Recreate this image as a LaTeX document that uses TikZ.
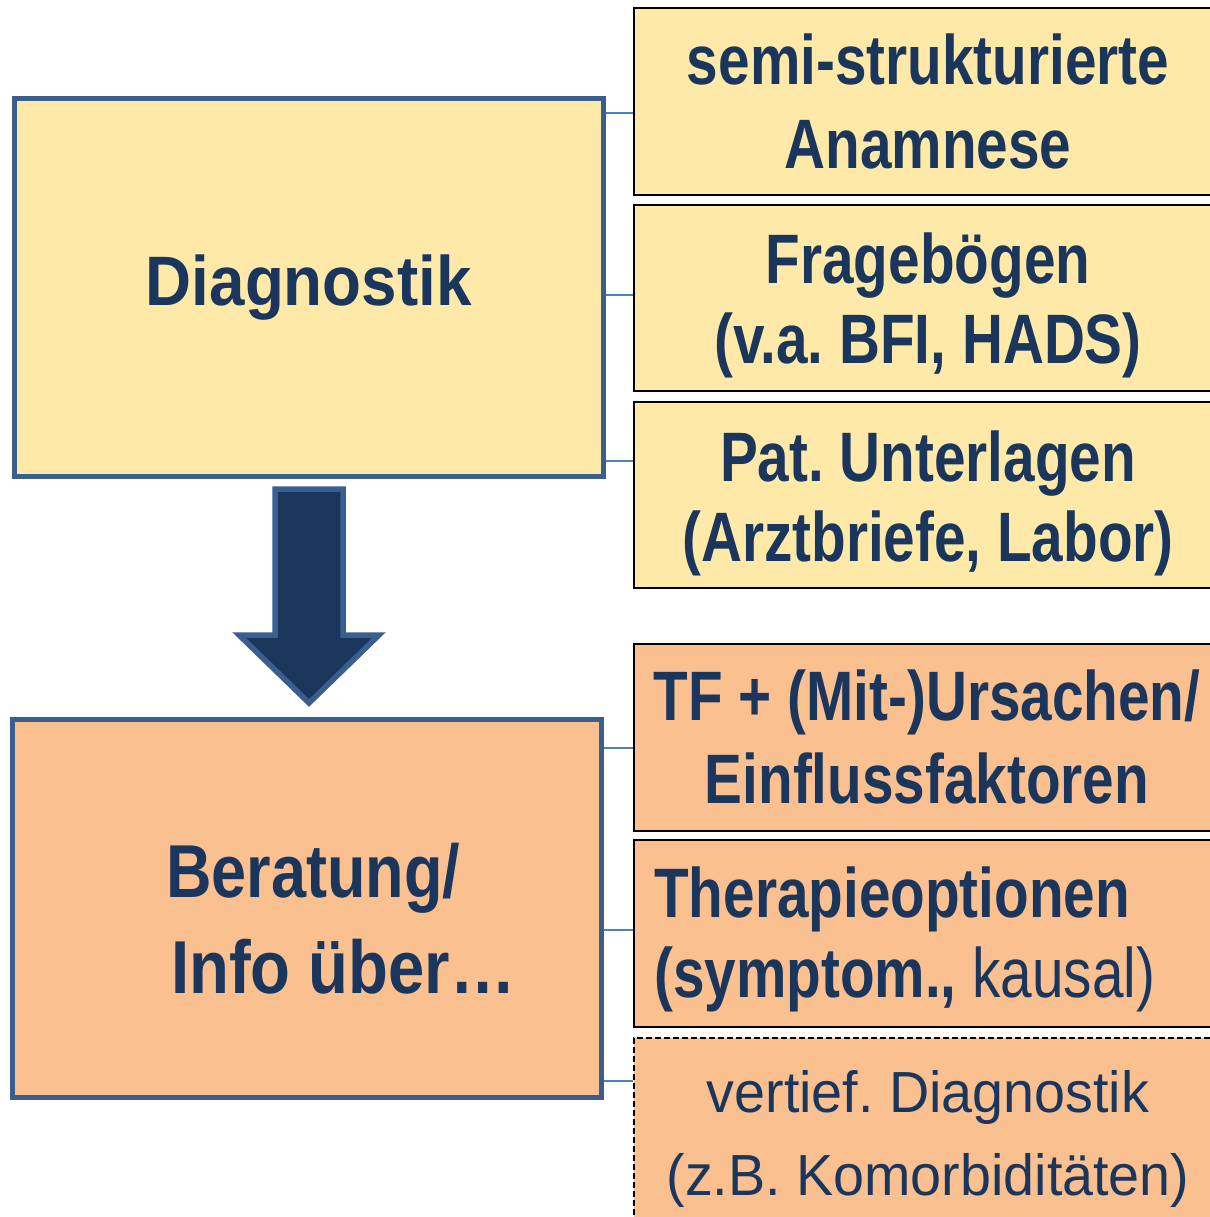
\documentclass[tikz,border=0pt]{standalone}
\usepackage{fontspec}
\setmainfont{Liberation Sans}
\newfontfamily\fmid[FakeStretch=0.81]{Liberation Sans}
\newfontfamily\fdia[FakeStretch=0.91]{Liberation Sans}
\newfontfamily\fber[FakeStretch=0.84]{Liberation Sans}
\newfontfamily\finf[FakeStretch=0.87]{Liberation Sans}
\newfontfamily\fver[FakeStretch=0.96]{Liberation Sans}
\definecolor{ybg}{HTML}{FFE9A8}
\definecolor{obg}{HTML}{FAC090}
\definecolor{navy}{HTML}{1A365D}
\definecolor{bdr}{HTML}{3A5F8E}
\definecolor{conn}{HTML}{4F81BD}
\frenchspacing
\begin{document}
\begin{tikzpicture}[x=1pt,y=-1pt,
  bigbox/.style={draw=bdr, line width=5pt, inner sep=0pt, minimum width=589pt, minimum height=378pt},
  rbox/.style={draw=black, line width=2pt, inner sep=0pt, minimum width=620pt, minimum height=186.5pt, anchor=north west},
  dbox/.style={rbox, dash pattern=on 6pt off 3pt, line width=2pt, minimum height=200pt},
  rtxt/.style={font=\fmid\bfseries\fontsize{70}{83}\selectfont, text=navy, align=center, inner sep=0pt, anchor=base},
  mtxt/.style={rtxt, font=\fmid\bfseries\fontsize{70}{80}\selectfont},
  vtxt/.style={font=\fver\fontsize{58}{83}\selectfont, text=navy, align=center, inner sep=0pt, anchor=base},
  link/.style={draw=conn, line width=2pt},
  bigarrow/.style={draw=bdr, fill=navy, line width=5.5pt, line join=miter}]
\useasboundingbox[fill=white] (0,0) rectangle (1209,1217);

% big boxes
\node[bigbox, fill=ybg, font=\fdia\bfseries\fontsize{70}{83}\selectfont, text=navy] (diag) at (308.75,287.5) {Diagnostik};
\node[bigbox, fill=obg] (ber) at (306.5,908) {};
\node[font=\fber\bfseries\fontsize{75}{96}\selectfont, text=navy, align=left, inner sep=0pt, anchor=base west] (bertxt) at (166,993) {Beratung/\\\hspace*{5pt}{\finf Info über…}};

% right boxes (yellow)
\node[rbox, fill=ybg] (r1) at (633,7.5) {};
\node[rbox, fill=ybg] (r2) at (633,203.5) {};
\node[rbox, fill=ybg] (r3) at (633,400.5) {};
% right boxes (orange)
\node[rbox, fill=obg] (o1) at (633,643) {};
\node[rbox, fill=obg] (o2) at (633,839) {};
\node[dbox, fill=obg] (o3) at (633,1036.5) {};

% texts (anchor = baseline of last line)
\node[rtxt] (t1) at (928,168) {semi-strukturierte\\Anamnese};
\node[mtxt] (t2) at (928,363) {Fragebögen\\(v.a. BFI, HADS)};
\node[mtxt] (t3) at (928,561) {Pat. Unterlagen\\(Arztbriefe, Labor)};
\node[rtxt] (t4) at (927,803) {TF + (Mit-)Ursachen/\\Einflussfaktoren};
\node[font=\fmid\fontsize{70}{80}\selectfont, text=navy, align=left, inner sep=0pt, anchor=base west] (t5) at (654,997) {{\bfseries Therapieoptionen}\\{\bfseries (symptom.,} kausal)};
\node[vtxt] (t6) at (928,1195) {vertief. Diagnostik\\(z.B. Komorbiditäten)};

% connectors
\coordinate (y1) at (0,113);
\coordinate (y2) at (0,295);
\coordinate (y3) at (0,461);
\coordinate (y4) at (0,748);
\coordinate (y5) at (0,930);
\coordinate (y6) at (0,1081);
\draw[link] (diag.east |- y1) -- (r1.west |- y1);
\draw[link] (diag.east |- y2) -- (r2.west |- y2);
\draw[link] (diag.east |- y3) -- (r3.west |- y3);
\draw[link] (ber.east |- y4) -- (o1.west |- y4);
\draw[link] (ber.east |- y5) -- (o2.west |- y5);
\draw[link] (ber.east |- y6) -- (o3.west |- y6);

% big arrow
\draw[bigarrow] (275,489) -- (343,489) -- (343,635) -- (379,635) -- (309,703) -- (239,635) -- (275,635) -- cycle;
\end{tikzpicture}
\end{document}
